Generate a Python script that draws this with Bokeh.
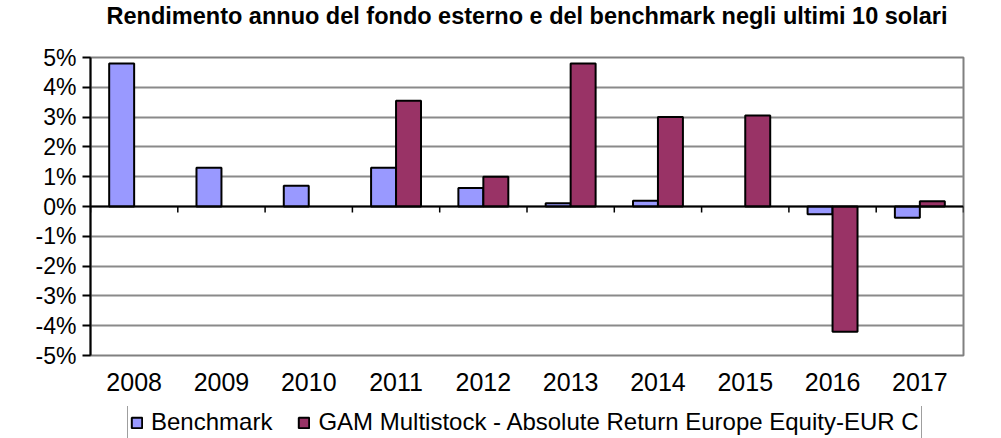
from bokeh.plotting import figure
from bokeh.layouts import column
from bokeh.models import (Range1d, FixedTicker, PrintfTickFormatter, Span, Legend,
                          LegendItem, ColumnDataSource, FactorRange, Title)
from bokeh.transform import dodge
from bokeh.embed import file_html
from bokeh.resources import INLINE

nan = float("nan")

# ---- data ----
years = ["2008", "2009", "2010", "2011", "2012", "2013", "2014", "2015", "2016", "2017"]
benchmark = [4.8, 1.3, 0.7, 1.3, 0.62, 0.11, 0.19, nan, -0.26, -0.38]
fund = [nan, nan, nan, 3.55, 1.0, 4.8, 3.0, 3.05, -4.2, 0.18]
y_ticks = [-5, -4, -3, -2, -1, 0, 1, 2, 3, 4, 5]
series_names = ["Benchmark", "GAM Multistock - Absolute Return Europe Equity-EUR C"]
title_text = "Rendimento annuo del fondo esterno e del benchmark negli ultimi 10 solari"

FONT = "Liberation Sans"
BENCH_COLOR = "#9999FF"
FUND_COLOR = "#993366"

src = ColumnDataSource(data=dict(year=years, benchmark=benchmark, fund=fund))
x_range = FactorRange(*years)

p = figure(x_range=x_range, y_range=Range1d(-5, 5), title=None,
           frame_width=873, frame_height=298, output_backend="svg", toolbar_location=None,
           min_border_left=90, min_border_right=22, min_border_top=0, min_border_bottom=45,
           background_fill_color="white", border_fill_color="white")

# spacer between frame and title, then the title itself (outermost)
p.add_layout(Title(text=" ", text_font_size="10px", standoff=16), "above")
p.add_layout(Title(text=title_text, text_font=FONT, text_font_size="23.5px",
                   text_font_style="bold", align="center", text_color="black",
                   standoff=0), "above")

bar_w = 0.286
bar_style = dict(width=bar_w, line_color="black", line_width=2)
r1 = p.vbar(x=dodge("year", -bar_w / 2, range=x_range), top="benchmark", bottom=0,
            source=src, fill_color=BENCH_COLOR, **bar_style)
r2 = p.vbar(x=dodge("year", bar_w / 2, range=x_range), top="fund", bottom=0,
            source=src, fill_color=FUND_COLOR, **bar_style)

# zero line (category axis) with ticks between categories
p.add_layout(Span(location=0, dimension="width", line_color="black", line_width=2))
edges = list(range(len(years) + 1))
p.segment(x0=edges, x1=edges, y0=[0] * len(edges), y1=[-0.2] * len(edges),
          line_color="black", line_width=1.5)

# grid
p.xgrid.visible = False
p.ygrid.ticker = FixedTicker(ticks=y_ticks)
p.ygrid.grid_line_color = "#8a8a8a"
p.ygrid.grid_line_width = 2

# y axis
ya = p.yaxis[0]
ya.ticker = FixedTicker(ticks=y_ticks)
ya.formatter = PrintfTickFormatter(format="%d%%")
ya.axis_line_color = "black"
ya.axis_line_width = 2
ya.major_tick_out = 8
ya.major_tick_in = 0
ya.major_tick_line_width = 2
ya.minor_tick_line_color = None
ya.major_label_text_font = FONT
ya.major_label_text_font_size = "23px"
ya.major_label_text_color = "black"
ya.major_label_standoff = 6

# x axis (labels only, at the bottom)
xa = p.xaxis[0]
xa.axis_line_color = None
xa.major_tick_line_color = None
xa.minor_tick_line_color = None
xa.major_tick_out = 0
xa.major_tick_in = 0
xa.minor_tick_out = 0
xa.major_label_standoff = 17
xa.major_label_text_font = FONT
xa.major_label_text_font_size = "25px"
xa.major_label_text_color = "black"

# small spacer under the tick labels so they are not cut by the canvas edge
p.add_layout(Title(text=" ", text_font_size="10px", standoff=0), "below")

p.outline_line_color = "#808080"
p.outline_line_width = 2

# ---- legend strip below the chart (same series, bars fall outside its view) ----
p2 = figure(x_range=x_range, y_range=Range1d(100, 101),
            frame_width=985, frame_height=40, output_backend="svg", toolbar_location=None,
            x_axis_location=None, y_axis_location=None, min_border=0,
            outline_line_color=None, background_fill_color="white",
            border_fill_color="white")
p2.grid.visible = False
k1 = p2.vbar(x=dodge("year", -bar_w / 2, range=x_range), top="benchmark", bottom=0,
             source=src, fill_color=BENCH_COLOR, **bar_style)
k2 = p2.vbar(x=dodge("year", bar_w / 2, range=x_range), top="fund", bottom=0,
             source=src, fill_color=FUND_COLOR, **bar_style)

legend = Legend(items=[LegendItem(label=series_names[0], renderers=[k1]),
                       LegendItem(label=series_names[1], renderers=[k2])],
                orientation="horizontal", location=(127, 7),
                border_line_color="#404040", border_line_width=1.5,
                padding=2, margin=0, spacing=25, glyph_width=13, glyph_height=13,
                label_standoff=8, label_text_font=FONT, label_text_font_size="24px",
                label_text_color="black")
p2.add_layout(legend)

layout = column(p, p2, spacing=0)
open("out.html", "w").write(file_html(layout, INLINE))
